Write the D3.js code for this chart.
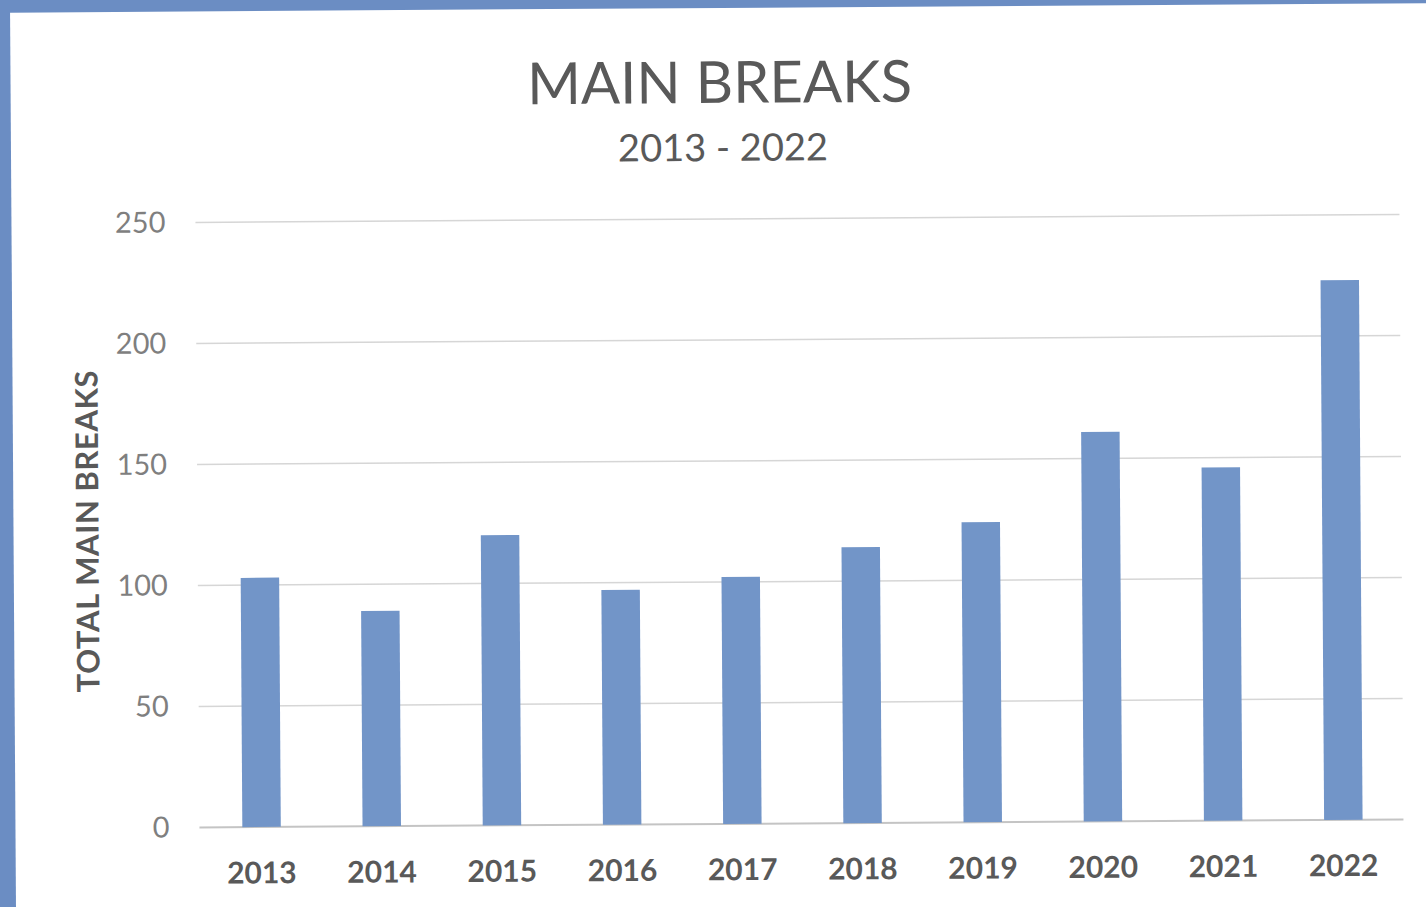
<!DOCTYPE html>
<html>
<head>
<meta charset="utf-8">
<script src="https://cdn.jsdelivr.net/npm/d3@7"></script>
<style>
  html, body { margin: 0; padding: 0; background: #6b8dc3; overflow: hidden; }
  svg { display: block; }
</style>
</head>
<body>
<div id="chart"></div>
<script>
const years = ["2013", "2014", "2015", "2016", "2017", "2018", "2019", "2020", "2021", "2022"]
const breaks = [103, 89, 120, 97, 102, 114, 124, 161, 146, 223]
const yTicks = [0, 50, 100, 150, 200, 250]

const title = "MAIN BREAKS"
const subtitle = "2013 - 2022"
const yLabel = "TOTAL MAIN BREAKS"

const render = () => {
    const width = 1426
    const height = 907
    const font = "Lato, 'Open Sans', sans-serif"
    const plot = { left: 199, right: 1401, top: 219, bottom: 824 }

    const svg = d3.select("#chart")
        .append("svg")
        .attr("width", width)
        .attr("height", height)

    svg.append("rect")
        .attr("width", width)
        .attr("height", height)
        .attr("fill", "#6b8dc3")

    // the whole sheet sits slightly rotated, like the scanned original
    const sheet = svg.append("g")
        .attr("transform", `rotate(-0.38, ${width / 2}, ${height / 2})`)

    sheet.append("rect")
        .attr("x", 13)
        .attr("y", 8)
        .attr("width", width + 40)
        .attr("height", height + 40)
        .attr("fill", "#ffffff")

    const xScale = d3.scaleBand()
        .domain(years)
        .range([plot.left, plot.right])

    const yScale = d3.scaleLinear()
        .domain([0, 250])
        .range([plot.bottom, plot.top])

    // gridlines
    sheet.append("g")
        .selectAll("line")
        .data(yTicks)
        .join("line")
        .attr("x1", plot.left - 2)
        .attr("x2", plot.right)
        .attr("y1", d => yScale(d))
        .attr("y2", d => yScale(d))
        .attr("stroke", d => d === 0 ? "#c4c4c4" : "#d6d6d6")
        .attr("stroke-width", d => d === 0 ? 2 : 1.5)

    const barWidth = xScale.bandwidth() * 0.32
    sheet.append("g")
        .selectAll("rect")
        .data(breaks)
        .join("rect")
        .attr("x", (d, i) => xScale(years[i]) + xScale.bandwidth() / 2 - barWidth / 2)
        .attr("y", d => yScale(d))
        .attr("width", barWidth)
        .attr("height", d => yScale(0) - yScale(d))
        .attr("fill", "#7295c8")

    const yAxis = d3.axisLeft(yScale)
        .tickValues(yTicks)
        .tickSize(0)
        .tickPadding(32)

    const yG = sheet.append("g")
        .attr("transform", `translate(${plot.left},0)`)
        .call(yAxis)
    yG.select(".domain").remove()
    yG.selectAll("text")
        .attr("fill", "#7f7f7f")
        .style("font-family", font)
        .style("font-size", "29px")

    const xAxis = d3.axisBottom(xScale)
        .tickSize(0)

    const xG = sheet.append("g")
        .attr("transform", `translate(0,${plot.bottom})`)
        .call(xAxis)
    xG.select(".domain").remove()
    xG.selectAll("text")
        .attr("y", 35)
        .attr("fill", "#595959")
        .style("font-family", font)
        .style("font-weight", "bold")
        .style("font-size", "30px")

    sheet.append("text")
        .attr("x", 722)
        .attr("y", 103)
        .attr("text-anchor", "middle")
        .attr("fill", "#595959")
        .style("font-family", font)
        .style("font-size", "58px")
        .text(title)

    sheet.append("text")
        .attr("x", 725)
        .attr("y", 161)
        .attr("text-anchor", "middle")
        .attr("fill", "#595959")
        .style("font-family", font)
        .style("font-size", "38px")
        .text(subtitle)

    sheet.append("text")
        .attr("transform", `translate(98,527) rotate(-90)`)
        .attr("text-anchor", "middle")
        .attr("fill", "#595959")
        .style("font-family", font)
        .style("font-weight", "bold")
        .style("font-size", "31px")
        .style("letter-spacing", "0.6px")
        .text(yLabel)
}

render()
</script>
</body>
</html>
